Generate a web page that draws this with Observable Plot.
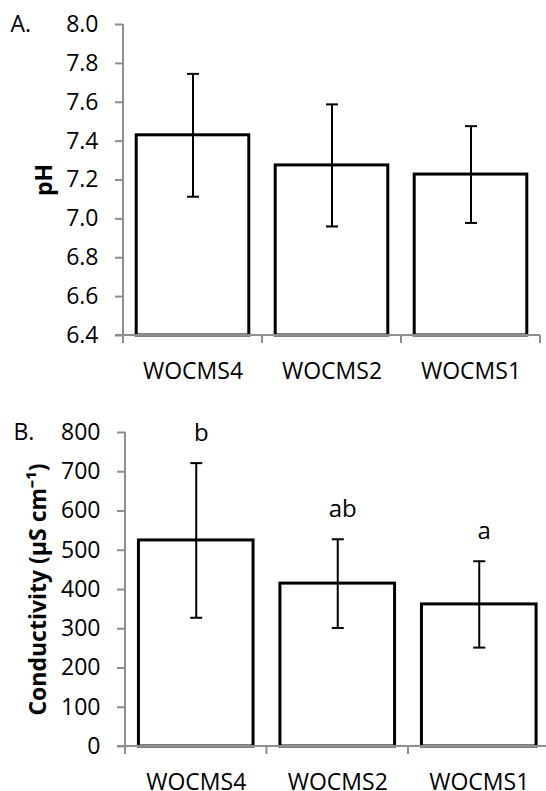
<!DOCTYPE html>
<html>
<head>
<meta charset="utf-8">
<script src="https://cdn.jsdelivr.net/npm/d3@7"></script>
<script src="https://cdn.jsdelivr.net/npm/@observablehq/plot@0.6"></script>
<style>
  body { margin: 0; background: #fff; }
  #chart svg { display: block; }
</style>
</head>
<body>
<div id="chart"></div>
<script>
// Sampling sites, left to right
const sites = ["WOCMS4", "WOCMS2", "WOCMS1"];

// Panel A: pH (mean ± SD)
const phMean = [7.43, 7.275, 7.228];
const phSd = [0.316, 0.314, 0.249];
const phDomain = [6.4, 8.0];

// Panel B: conductivity in µS cm⁻¹ (mean ± SD) with significance groups
const condMean = [525, 415, 362];
const condSd = [197, 113, 110];
const condGroups = ["b", "ab", "a"];
const condDomain = [0, 800];

const axisGray = "#8f8f8f";
const font = "Open Sans";
const textSize = 23;

// Short horizontal stroke used as the error-bar cap
const capSymbol = {
  draw(ctx, size) {
    const r = Math.sqrt(size / Math.PI);
    ctx.moveTo(-r, 0);
    ctx.lineTo(r, 0);
  }
};

// Axis lines plus category divider ticks on the x axis, drawn from the plot's own scales
function axisFrame(index, scales, values, dims) {
  const x = scales.x;
  const step = x.step();
  const gap = step - x.bandwidth();
  const edges = x.domain().map((d) => x(d) - gap / 2);
  edges.push(edges[edges.length - 1] + step);
  const y0 = dims.height - dims.marginBottom;
  const g = d3.create("svg:g")
    .attr("stroke", axisGray)
    .attr("stroke-width", 2)
    .attr("fill", "none");
  g.append("line")
    .attr("x1", edges[0]).attr("x2", edges[0])
    .attr("y1", dims.marginTop).attr("y2", y0);
  g.append("line")
    .attr("x1", edges[0] - 8).attr("x2", dims.width - dims.marginRight)
    .attr("y1", y0).attr("y2", y0);
  g.selectAll(".div")
    .data(edges)
    .join("line")
    .attr("x1", (e) => e).attr("x2", (e) => e)
    .attr("y1", y0).attr("y2", y0 + 8);
  return g.node();
}

function panel({tag, means, sds, groups, domain, format, title, height, marginTop, marginBottom, marginLeft, marginRight, range, titleDx, tagDx, labelPad}) {
  const rows = sites.map((site, i) => ({
    site,
    mean: means[i],
    lo: means[i] - sds[i],
    hi: means[i] + sds[i],
    group: groups ? groups[i] : null
  }));
  const marks = [
    Plot.barY(rows, {x: "site", y1: domain[0], y2: "mean", fill: "white", stroke: "black", strokeWidth: 3}),
    Plot.ruleX(rows, {x: "site", y1: "lo", y2: "hi", stroke: "black", strokeWidth: 2}),
    Plot.dot(rows, {x: "site", y: "hi", symbol: capSymbol, r: 6, stroke: "black", strokeWidth: 2, fill: "none"}),
    Plot.dot(rows, {x: "site", y: "lo", symbol: capSymbol, r: 6, stroke: "black", strokeWidth: 2, fill: "none"}),
    axisFrame,
    Plot.axisY({ticks: 8, tickFormat: format, tickSize: 8, tickPadding: 17, stroke: axisGray, strokeWidth: 2, fill: "black", fontSize: textSize, label: null}),
    Plot.axisX({tickSize: 0, tickPadding: labelPad, fill: "black", fontSize: textSize, label: null}),
    Plot.text([title], {frameAnchor: "left", text: (d) => d, rotate: -90, dx: titleDx, textAnchor: "middle", lineAnchor: "middle", fontWeight: "bold", fontSize: textSize, fill: "black"}),
    Plot.text([tag], {frameAnchor: "top-left", text: (d) => d, dx: tagDx, textAnchor: "start", lineAnchor: "middle", fontSize: textSize, fill: "black"})
  ];
  if (groups) {
    marks.push(Plot.text(rows, {x: "site", y: "hi", text: "group", dy: -22, dx: 5, lineAnchor: "bottom", fontSize: textSize + 1, fill: "black"}));
  }
  const xScale = {domain: sites, paddingInner: 0.19, paddingOuter: 0.095, round: false, axis: null};
  if (range) xScale.range = range;
  return Plot.plot({
    width: 546,
    height,
    marginTop,
    marginBottom,
    marginLeft,
    marginRight,
    style: {fontFamily: font, fontSize: `${textSize}px`, color: "black", background: "white"},
    x: xScale,
    y: {domain, axis: null},
    marks
  });
}

const chart = document.getElementById("chart");

chart.append(panel({
  tag: "A.",
  means: phMean,
  sds: phSd,
  domain: phDomain,
  format: d3.format(".1f"),
  title: "pH",
  height: 395,
  marginTop: 24,
  marginBottom: 60,
  marginLeft: 123,
  marginRight: 6,
  titleDx: -79,
  tagDx: -113,
  labelPad: 27
}));

chart.append(panel({
  tag: "B.",
  means: condMean,
  sds: condSd,
  groups: condGroups,
  domain: condDomain,
  format: d3.format("d"),
  title: "Conductivity (µS cm⁻¹)",
  height: 396,
  marginTop: 37,
  marginBottom: 45,
  marginLeft: 125,
  marginRight: 0,
  range: [125, 549.5],
  titleDx: -87,
  tagDx: -112,
  labelPad: 27
}));
</script>
</body>
</html>
